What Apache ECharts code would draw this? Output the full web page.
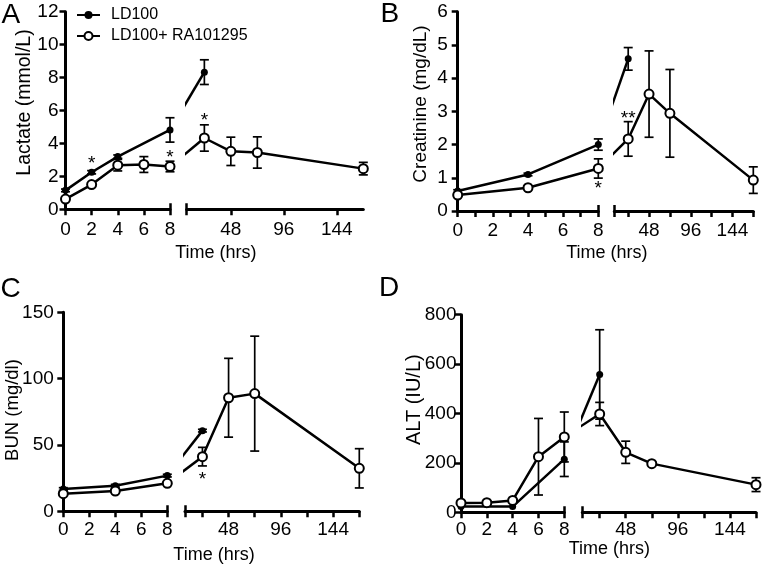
<!DOCTYPE html>
<html><head><meta charset="utf-8">
<script src="https://cdn.jsdelivr.net/npm/echarts@6/dist/echarts.min.js"></script>
<style>html,body{margin:0;padding:0;background:#fff}#c{width:762px;height:566px}</style>
</head><body><div id="c"></div>
<script>
const FONT = '"Liberation Sans", Arial, Helvetica, sans-serif';
const NAME_LD = 'LD100';
const NAME_RA = 'LD100+ RA101295';

// Shared x tick labels (hours)
const leftHourLabels = [0, 2, 4, 6, 8];
const rightHourLabels = [48, 96, 144];
const rightTicksSparse = [8, 48, 96, 144];
const rightTicksFull = [8, 24, 48, 72, 96, 120, 144, 168];

// ---- Panel A: Lactate (mmol/L)
const lactateYTicks = [0, 2, 4, 6, 8, 10, 12];
const lactateHoursLD = [0, 2, 4, 8, 24];
const lactateLD = [1.15, 2.25, 3.2, 4.82, 8.33];
const lactateLDErr = [0.08, 0.1, 0.1, 0.74, 0.75];
const lactateHoursRA = [0, 2, 4, 6, 8, 24, 48, 72, 168];
const lactateRA = [0.62, 1.5, 2.68, 2.72, 2.6, 4.33, 3.52, 3.45, 2.47];
const lactateRAErr = [0.08, 0.1, 0.35, 0.48, 0.32, 0.8, 0.86, 0.95, 0.38];
const lactateStars = [[2, 2.99, '*'], [8, 3.4, '*'], [24, 5.62, '*']];

// ---- Panel B: Creatinine (mg/dL)
const creatYTicks = [0, 1, 2, 3, 4, 5, 6];
const creatHoursLD = [0, 4, 8, 24];
const creatLD = [0.6, 1.1, 2.0, 4.58];
const creatLDErr = [0.04, 0.04, 0.17, 0.34];
const creatHoursRA = [0, 4, 8, 24, 48, 72, 168];
const creatRA = [0.48, 0.7, 1.28, 2.17, 3.52, 2.94, 0.93];
const creatRAErr = [0.04, 0.04, 0.29, 0.52, 1.3, 1.32, 0.4];
const creatStars = [[8, 0.78, '*'], [24, 2.89, '**']];

// ---- Panel C: BUN (mg/dl)
const bunYTicks = [0, 50, 100, 150];
const bunHoursLD = [0, 4, 8, 24];
const bunLD = [16.8, 19.3, 26.9, 60.8];
const bunLDErr = [1, 1, 1, 1];
const bunHoursRA = [0, 4, 8, 24, 48, 72, 168];
const bunRA = [13.3, 15.3, 21.1, 41.2, 85.6, 88.7, 32.4];
const bunRAErr = [1, 1, 1, 7, 29.7, 43.3, 14.8];
const bunStars = [[24, 26.8, '*']];

// ---- Panel D: ALT (IU/L)
const altYTicks = [0, 200, 400, 600, 800];
const altHoursLD = [0, 4, 8, 24];
const altLD = [23, 23, 215, 558];
const altLDErr = [0, 0, 70, 181];
const altHoursRA = [0, 2, 4, 6, 8, 24, 48, 72, 168];
const altRA = [38, 39, 48, 225, 305, 398, 243, 197, 112];
const altRAErr = [4, 4, 4, 155, 101, 47, 45, 5, 28];
const altStars = [];

const panels = [
  { letter: 'A', yName: 'Lactate (mmol/L)', yNameSize: 19.5, yTicks: lactateYTicks, leftMinor: false, rightTicks: rightTicksSparse,
    ld: [lactateHoursLD, lactateLD, lactateLDErr], ra: [lactateHoursRA, lactateRA, lactateRAErr], stars: lactateStars,
    L: { yAxisX: 65.5, leftEnd: 170, rightStart: 186.7, rightEnd: 363.3, top: 11.7, bottom: 209.3 },
    xLabelMargin: 10.5, yLabelMargin: 7, letterPos: [1.5, 1.3], yNamePos: [25, 102.5], xNamePos: [215.8, 253.3] },
  { letter: 'B', yName: 'Creatinine (mg/dL)', yNameSize: 19, yTicks: creatYTicks, leftMinor: true, rightTicks: rightTicksFull,
    ld: [creatHoursLD, creatLD, creatLDErr], ra: [creatHoursRA, creatRA, creatRAErr], stars: creatStars,
    L: { yAxisX: 457.7, leftEnd: 598.3, rightStart: 614.3, rightEnd: 753.3, top: 11.7, bottom: 211 },
    xLabelMargin: 10, yLabelMargin: 10, letterPos: [380.5, 0.3], yNamePos: [421, 104], xNamePos: [606.8, 253.3] },
  { letter: 'C', yName: 'BUN (mg/dl)', yNameSize: 18.5, yTicks: bunYTicks, leftMinor: false, rightTicks: rightTicksFull,
    ld: [bunHoursLD, bunLD, bunLDErr], ra: [bunHoursRA, bunRA, bunRAErr], stars: bunStars,
    L: { yAxisX: 63.3, leftEnd: 167.3, rightStart: 185, rightEnd: 359.3, top: 312.3, bottom: 511.3 },
    xLabelMargin: 8.5, yLabelMargin: 9.5, letterPos: [0.5, 275.3], yNamePos: [13.3, 410], xNamePos: [214, 554.7] },
  { letter: 'D', yName: 'ALT (IU/L)', yNameSize: 20, yTicks: altYTicks, leftMinor: false, rightTicks: rightTicksFull,
    ld: [altHoursLD, altLD, altLDErr], ra: [altHoursRA, altRA, altRAErr], stars: altStars,
    L: { yAxisX: 461, leftEnd: 564.3, rightStart: 582.3, rightEnd: 756, top: 314.7, bottom: 512.3 },
    xLabelMargin: 7.5, yLabelMargin: 4.5, letterPos: [379, 274.3], yNamePos: [414.3, 399.7], xNamePos: [609.3, 548.8] }
];

const BLACK = '#000';
const tickStyle = { color: BLACK, width: 2.5 };
const labelStyle = { fontSize: 19, color: BLACK, fontFamily: FONT };

function errRender(params, api) {
  const x = api.value(0), y = api.value(1), e = api.value(2);
  if (!(e > 0)) return null;
  const hi = api.coord([x, y + e]), lo = api.coord([x, y - e]);
  const w = 4.5;
  const st = { stroke: BLACK, lineWidth: 1.7 };
  return { type: 'group', children: [
    { type: 'line', shape: { x1: hi[0], y1: hi[1], x2: lo[0], y2: lo[1] }, style: st },
    { type: 'line', shape: { x1: hi[0] - w, y1: hi[1], x2: hi[0] + w, y2: hi[1] }, style: st },
    { type: 'line', shape: { x1: lo[0] - w, y1: lo[1], x2: lo[0] + w, y2: lo[1] }, style: st }
  ]};
}

function starRenderFactory(list) {
  return function (params, api) {
    const item = list[params.dataIndex];
    const p = api.coord([api.value(0), api.value(1)]);
    return { type: 'text', x: p[0], y: p[1] + 4,
      style: { text: item[2], fill: BLACK, font: '19px ' + FONT, textAlign: 'center', textVerticalAlign: 'middle' } };
  };
}

const grids = [], xAxes = [], yAxes = [], series = [], graphics = [];
const bridges = [];

panels.forEach((p, pi) => {
  const L = p.L;
  const gl = grids.length;
  const h = L.bottom - L.top;
  grids.push({ left: L.yAxisX, top: L.top, width: L.leftEnd - L.yAxisX, height: h, containLabel: false, outerBoundsMode: 'none' });
  grids.push({ left: L.rightStart, top: L.top, width: L.rightEnd - L.rightStart, height: h, containLabel: false, outerBoundsMode: 'none' });

  const yMin = p.yTicks[0], yMax = p.yTicks[p.yTicks.length - 1], yInt = p.yTicks[1] - p.yTicks[0];
  const xl = xAxes.length;
  xAxes.push({ type: 'value', gridIndex: gl, min: leftHourLabels[0], max: leftHourLabels[leftHourLabels.length - 1],
    interval: leftHourLabels[1] - leftHourLabels[0], position: 'bottom',
    axisLine: { onZero: false, lineStyle: { color: BLACK, width: 3 } },
    axisTick: { length: 6, lineStyle: tickStyle },
    minorTick: p.leftMinor ? { show: true, splitNumber: 2, length: 6, lineStyle: tickStyle } : { show: false },
    axisLabel: Object.assign({ margin: p.xLabelMargin }, labelStyle),
    splitLine: { show: false }, minorSplitLine: { show: false } });
  const xr = xAxes.length;
  xAxes.push({ type: 'value', gridIndex: gl + 1, min: 8, max: 168, position: 'bottom',
    axisLine: { onZero: false, lineStyle: { color: BLACK, width: 3 } },
    axisTick: { length: 6, lineStyle: tickStyle, customValues: p.rightTicks },
    axisLabel: Object.assign({ margin: p.xLabelMargin, customValues: rightHourLabels }, labelStyle),
    splitLine: { show: false } });
  // break caps (inward ticks at the break)
  xAxes.push({ type: 'value', gridIndex: gl, min: 0, max: 8, position: 'bottom',
    axisLine: { show: false, onZero: false }, axisLabel: { show: false }, splitLine: { show: false },
    axisTick: { show: true, inside: true, length: 6, lineStyle: tickStyle, customValues: [8] } });
  xAxes.push({ type: 'value', gridIndex: gl + 1, min: 8, max: 168, position: 'bottom',
    axisLine: { show: false, onZero: false }, axisLabel: { show: false }, splitLine: { show: false },
    axisTick: { show: true, inside: true, length: 6, lineStyle: tickStyle, customValues: [8] } });

  const yl = yAxes.length;
  yAxes.push({ type: 'value', gridIndex: gl, min: yMin, max: yMax, interval: yInt, position: 'left',
    axisLine: { show: true, onZero: false, lineStyle: { color: BLACK, width: 3 } },
    axisTick: { show: true, length: 6, lineStyle: tickStyle },
    axisLabel: Object.assign({ margin: p.yLabelMargin }, labelStyle),
    splitLine: { show: false } });
  const yr = yAxes.length;
  yAxes.push({ type: 'value', gridIndex: gl + 1, min: yMin, max: yMax, show: false, splitLine: { show: false } });

  [['ld', NAME_LD], ['ra', NAME_RA]].forEach(([key, name], gi) => {
    const [hrs, vals, errs] = p[key];
    const leftPts = [], rightPts = [], leftErr = [], rightErr = [];
    hrs.forEach((t, k) => {
      if (t <= 8) { leftPts.push([t, vals[k]]); leftErr.push([t, vals[k], errs[k]]); }
      else { rightPts.push([t, vals[k]]); rightErr.push([t, vals[k], errs[k]]); }
    });
    const isOpen = key === 'ra';
    const common = {
      type: 'line', name: name, z: 3 + gi,
      symbol: 'circle', symbolSize: isOpen ? 9 : 7,
      itemStyle: isOpen ? { color: '#fff', borderColor: BLACK, borderWidth: 2 } : { color: BLACK, borderColor: BLACK, borderWidth: 0 },
      lineStyle: { color: BLACK, width: 2.5 },
      emphasis: { disabled: true }, clip: true
    };
    series.push(Object.assign({}, common, { xAxisIndex: xl, yAxisIndex: yl, data: leftPts }));
    series.push(Object.assign({}, common, { xAxisIndex: xr, yAxisIndex: yr, data: rightPts }));
    const bid = 'bridge-' + pi + '-' + key;
    series.push({ type: 'line', id: bid, name: name, xAxisIndex: xr, yAxisIndex: yr, data: [], z: 2,
      symbol: 'none', showSymbol: false, clip: true, lineStyle: { color: BLACK, width: 2.5 }, emphasis: { disabled: true } });
    bridges.push({ id: bid, xl: xl, xr: xr, from: leftPts[leftPts.length - 1], to: rightPts[0] });
    [[xl, yl, leftErr], [xr, yr, rightErr]].forEach(([xa, ya, d]) => {
      series.push({ type: 'custom', name: 'err-' + key, xAxisIndex: xa, yAxisIndex: ya, z: 1,
        dimensions: ['x', 'y', 'e'], encode: { x: 0, y: 1 }, data: d, renderItem: errRender, silent: true });
    });
  });

  const starsLeft = p.stars.filter(s => s[0] <= 8), starsRight = p.stars.filter(s => s[0] > 8);
  [[xl, yl, starsLeft], [xr, yr, starsRight]].forEach(([xa, ya, list]) => {
    if (!list.length) return;
    series.push({ type: 'custom', name: 'stars', xAxisIndex: xa, yAxisIndex: ya, z: 6, silent: true,
      dimensions: ['x', 'y'], encode: { x: 0, y: 1 }, data: list.map(s => [s[0], s[1]]), renderItem: starRenderFactory(list) });
  });

  graphics.push({ type: 'text', x: p.letterPos[0], y: p.letterPos[1],
    style: { text: p.letter, fill: BLACK, font: '28px ' + FONT, textAlign: 'left', textVerticalAlign: 'top' } });
  graphics.push({ type: 'text', x: p.yNamePos[0], y: p.yNamePos[1], rotation: Math.PI / 2,
    style: { text: p.yName, fill: BLACK, font: p.yNameSize + 'px ' + FONT, textAlign: 'center', textVerticalAlign: 'middle' } });
  graphics.push({ type: 'text', x: p.xNamePos[0], y: p.xNamePos[1],
    style: { text: 'Time (hrs)', fill: BLACK, font: '18px ' + FONT, textAlign: 'center', textVerticalAlign: 'middle' } });
});

const chart = echarts.init(document.getElementById('c'), null, { renderer: 'canvas' });
chart.setOption({
  animation: false,
  backgroundColor: '#fff',
  textStyle: { fontFamily: FONT },
  grid: grids, xAxis: xAxes, yAxis: yAxes, series: series, graphic: graphics,
  legend: { data: [NAME_LD, NAME_RA], orient: 'vertical', left: 76, top: 7, padding: 0,
    itemWidth: 23, itemHeight: 10, itemGap: 5,
    textStyle: { fontSize: 16, color: BLACK, fontFamily: FONT, padding: [0, 0, 0, 6] } }
});

// Lines crossing the axis break: start at the left panel's 8 h point, drawn only inside the right panel.
const upd = bridges.map(b => {
  const px = chart.convertToPixel({ xAxisIndex: b.xl }, b.from[0]);
  const xv = chart.convertFromPixel({ xAxisIndex: b.xr }, px);
  return { id: b.id, data: [[xv, b.from[1]], b.to] };
});
chart.setOption({ series: upd });
</script></body></html>
